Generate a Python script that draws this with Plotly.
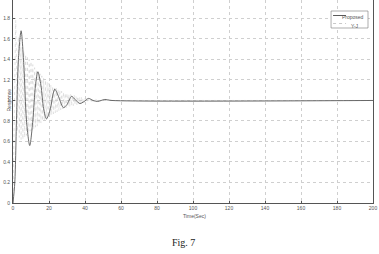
import plotly.graph_objects as go

# Proposed controller response (key points)
t_prop = [0, 1, 2, 3, 4.5, 6, 7.5, 9.3, 11, 12.5, 13.8, 15.5, 17, 18.6, 20.5, 23.2, 25.5,
          28, 30, 32.5, 35, 37.2, 39.5, 42, 44.5, 47, 49, 51, 55, 200]
y_prop = [0, 0.2, 0.85, 1.4, 1.68, 1.35, 0.8, 0.56, 0.8, 1.15, 1.28, 1.15, 0.92, 0.82, 0.9,
          1.11, 1.03, 0.93, 0.96, 1.04, 1.0, 0.97, 0.99, 1.02, 1.0, 0.99, 1.0, 1.01, 1.0, 1.0]

# Y-J response (dense oscillation, sampled every 0.5 s)
t_yj = [i * 0.5 for i in range(111)] + [200]
y_yj = [0, 0.6, 1.2, 1.78, 1.3, 0.7, 1.62, 0.64, 1.56, 0.62, 1.52, 0.62, 1.48, 0.64,
        1.45, 0.66, 1.42, 0.68, 1.4, 0.7, 1.38, 0.71, 1.35, 0.72, 1.32, 0.74, 1.3, 0.75,
        1.28, 0.77, 1.26, 0.78, 1.24, 0.8, 1.22, 0.81, 1.2, 0.83, 1.18, 0.84, 1.17, 0.85,
        1.15, 0.86, 1.14, 0.87, 1.13, 0.88, 1.12, 0.89, 1.11, 0.9, 1.1, 0.91, 1.09, 0.92,
        1.08, 0.93, 1.07, 0.93, 1.07, 0.94, 1.06, 0.94, 1.06, 0.95, 1.05, 0.95, 1.05, 0.96,
        1.04, 0.96, 1.04, 0.97, 1.03, 0.97, 1.03, 0.98, 1.02, 0.98, 1.02, 0.98, 1.02, 0.99,
        1.01, 0.99, 1.01, 0.99, 1.01, 0.99, 1.01, 0.99, 1.01, 1.0, 1.0, 1.0, 1.0, 1.0, 1.0,
        1.0, 1.0, 1.0, 1.0, 1.0, 1.0, 1.0, 1.0, 1.0, 1.0, 1.0, 1.0, 1.0]
y_yj = y_yj[:len(t_yj)]
while len(y_yj) < len(t_yj):
    y_yj.append(1.0)

x_ticks = list(range(0, 201, 20))
y_ticks = [0, 0.2, 0.4, 0.6, 0.8, 1, 1.2, 1.4, 1.6, 1.8]
y_labels = ["0", "0.2", "0.4", "0.6", "0.8", "1", "1.2", "1.4", "1.6", "1.8"]

fig = go.Figure()
fig.add_trace(go.Scatter(x=t_yj, y=y_yj, mode="lines", name="Y-J",
                         line=dict(color="#d2d2d2", width=0.6, dash="dot")))
fig.add_trace(go.Scatter(x=t_prop, y=y_prop, mode="lines", name="Proposed",
                         line=dict(color="#5a5a5a", width=0.9, shape="spline", smoothing=0.8)))

L, R, T, B = 12.5, 373, 0, 203
W, H = 379, 254


def px(x):
    return (x - L) / (R - L)


def py(y):
    return (B - y) / (B - T)


axis_common = dict(showline=True, linecolor="#555555", linewidth=0.8, mirror=True,
                   showgrid=True, gridcolor="#cfcfcf", griddash="dot", gridwidth=0.6,
                   ticks="inside", ticklen=2, tickcolor="#555", zeroline=False,
                   tickfont=dict(family="Arial", size=5, color="#555"))

fig.update_layout(
    width=W, height=H, showlegend=False,
    margin=dict(l=L, r=W - R, t=T, b=H - B),
    paper_bgcolor="white", plot_bgcolor="white",
    xaxis=dict(range=[0, 200], tickvals=x_ticks, ticklabelstandoff=0, **axis_common),
    yaxis=dict(range=[0, 1.98], tickvals=y_ticks, ticktext=y_labels, ticklabelstandoff=1,
               **axis_common),
)

ann_font = dict(family="Arial", size=5, color="#555")
fig.add_annotation(x=px(194), y=py(211), xref="paper", yref="paper", text="Time(Sec)",
                   showarrow=False, yanchor="top", font=ann_font)
fig.add_annotation(x=px(3), y=py(100), xref="paper", yref="paper", text="Response",
                   showarrow=False, textangle=-90, font=ann_font)
fig.add_annotation(x=px(183), y=py(250), xref="paper", yref="paper", text="Fig. 7",
                   showarrow=False, font=dict(family="Liberation Serif", size=10, color="#222"))

# Legend box
fig.add_shape(type="rect", xref="paper", yref="paper", x0=px(331), x1=px(368),
              y0=py(28), y1=py(11), line=dict(color="#777", width=0.6), fillcolor="white")
fig.add_shape(type="line", xref="paper", yref="paper", x0=px(333), x1=px(346),
              y0=py(15.5), y1=py(15.5), line=dict(color="#5a5a5a", width=1))
fig.add_shape(type="line", xref="paper", yref="paper", x0=px(333), x1=px(346),
              y0=py(23.5), y1=py(23.5), line=dict(color="#bbbbbb", width=0.8, dash="dot"))
fig.add_annotation(x=px(366), y=py(15.5), xref="paper", yref="paper", text="Proposed",
                   showarrow=False, xanchor="right", yshift=3, font=ann_font)
fig.add_annotation(x=px(349), y=py(23.5), xref="paper", yref="paper", text="Y-J",
                   showarrow=False, xanchor="left", yshift=3, font=ann_font)

fig.write_html("out.html")
